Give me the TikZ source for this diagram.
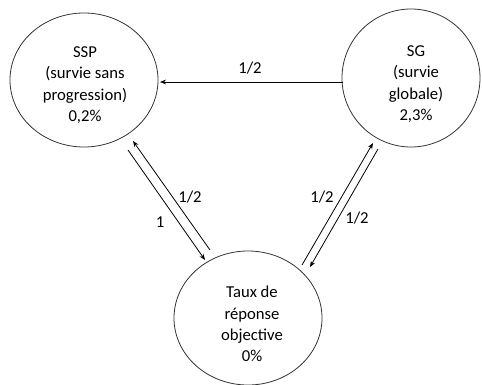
\documentclass[tikz,border=0pt]{standalone}
\usepackage{fontspec}
\setmainfont{Carlito}
\usetikzlibrary{shapes.geometric,arrows.meta}
\begin{document}
\begin{tikzpicture}[x=0.75pt,y=-0.75pt,
  state/.style={draw=black!80, line width=0.6pt, ellipse, inner sep=0pt},
  txt/.style={align=center, inner sep=0pt, font=\fontsize{12.5}{16}\selectfont},
  arr/.style={line width=0.6pt, -{Stealth[length=4.5pt,width=3.5pt]}},
  lbl/.style={font=\fontsize{12.5}{14}\selectfont, inner sep=0pt}]
\useasboundingbox (0,0) rectangle (482,385);
\node[state, minimum width=111pt, minimum height=100.5pt] (SSP) at (84,80) {};
\node[state, minimum width=103.5pt, minimum height=103.5pt] (SG) at (411,78) {};
\node[state, minimum width=111pt, minimum height=100.5pt] (T) at (248,318) {};
\node[txt] (SSPt) at (85,85) {SSP\\(survie sans\\progression)\\0,2\%};
\node[txt] (SGt) at (416,84) {SG\\(survie\\globale)\\2,3\%};
\node[txt] (Tt) at (252,324) {Taux de\\réponse\\objective\\0\%};
\draw[arr] ([shift={(-68,4)}]SG.center) -- ([shift={(76,2)}]SSP.center);
\draw[arr] ([shift={(44,70)}]SSP.center) -- ([shift={(-43,-58)}]T.center);
\draw[arr] ([shift={(-38,-68)}]T.center) -- ([shift={(49,61)}]SSP.center);
\draw[arr] ([shift={(54,-53)}]T.center) -- ([shift={(-38,65)}]SG.center);
\draw[arr] ([shift={(-33,71)}]SG.center) -- ([shift={(62,-51)}]T.center);
\node[lbl] (l1) at (250,68) {1/2};
\node[lbl] (l2) at (160,222) {1};
\node[lbl] (l3) at (190,197) {1/2};
\node[lbl] (l4) at (322,197) {1/2};
\node[lbl] (l5) at (357,218) {1/2};
\end{tikzpicture}
\end{document}
